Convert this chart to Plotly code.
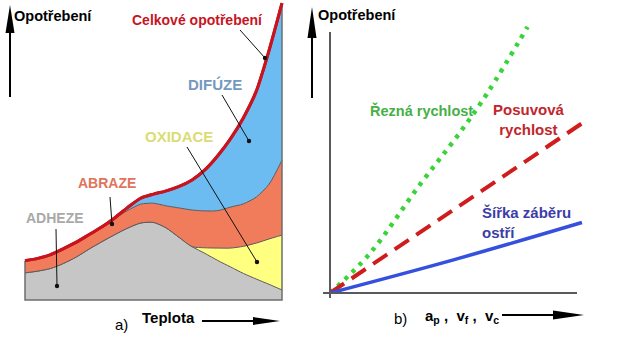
import plotly.graph_objects as go

W, H = 640, 355

# ---------------- data: panel a (wear mechanisms vs temperature) ----------------
teplota = [0, 5, 10, 15, 20, 25, 30, 35, 40, 45, 50, 55, 60, 65, 70, 75, 80, 85, 90, 95, 100]
adheze = [9.2, 9.8, 10.7, 12.4, 14.6, 17.3, 19.8, 22.2, 24.4, 26.1, 26.3, 24.4, 21.2, 18.1, 15.8, 13.4, 11.2, 9.0, 7.1, 5.3, 3.4]
oxidace = [0, 0, 0, 0, 0, 0, 0, 0, 0, 0, 0, 0, 0, 0, 1.9, 4.2, 6.4, 9.2, 12.2, 15.4, 18.6]
abraze = [4.1, 4.3, 4.7, 5.0, 5.0, 4.9, 5.0, 5.5, 6.0, 6.4, 6.5, 7.5, 10.0, 12.4, 12.5, 12.7, 13.9, 14.4, 15.6, 18.6, 25.4]
difuze = [0, 0, 0, 0, 0, 0, 0, 0.2, 1.0, 2.0, 3.1, 5.1, 7.3, 10.2, 13.9, 18.6, 23.2, 29.2, 35.9, 45.4, 53.2]

# ---------------- data: panel b (wear vs cutting parameters) ----------------
rezna_x = [0, 1.6, 3.6, 5.3, 6.4, 8.0]
rezna_y = [0, 1.5, 4.1, 6.2, 7.7, 10.2]
posuv_x = [0, 10.2]
posuv_y = [0, 6.5]
sirka_x = [0, 5.0, 10.2]
sirka_y = [0, 1.27, 2.7]


def X(p):
    return p / W


def Y(p):
    return 1 - p / H


fig = go.Figure()

edge = "#5a5a5a"
layers = [
    ("Adheze", adheze, "#c6c6c6", dict(color=edge, width=1)),
    ("Oxidace", oxidace, "#ffff80", dict(color=edge, width=1)),
    ("Abraze", abraze, "#f07c5c", dict(color=edge, width=1)),
    ("Difúze", difuze, "#6cbcf2", dict(color="#c8141e", width=3)),
]
for name, vals, col, ln in layers:
    fig.add_trace(go.Scatter(
        x=teplota, y=vals, name=name, stackgroup="a", mode="lines",
        fillcolor=col, line=dict(shape="spline", smoothing=0.7, **ln),
        xaxis="x", yaxis="y", showlegend=False, hoverinfo="skip"))

total = [a + b + c + d for a, b, c, d in zip(adheze, oxidace, abraze, difuze)]
fig.add_trace(go.Scatter(
    x=[teplota[0], teplota[0], teplota[-1], teplota[-1]],
    y=[total[0], 0, 0, total[-1]], mode="lines",
    line=dict(color="#6e6e6e", width=1.5), xaxis="x", yaxis="y",
    showlegend=False, hoverinfo="skip"))
fig.add_trace(go.Scatter(
    x=teplota, y=total, mode="lines",
    line=dict(color="#c8141e", width=3, shape="spline", smoothing=0.7),
    xaxis="x", yaxis="y", showlegend=False, hoverinfo="skip"))

# panel b lines
fig.add_trace(go.Scatter(x=rezna_x, y=rezna_y, mode="lines",
                         line=dict(color="#38d438", width=4.5, dash="4px,6px", shape="spline"),
                         xaxis="x2", yaxis="y2", showlegend=False, hoverinfo="skip"))
fig.add_trace(go.Scatter(x=posuv_x, y=posuv_y, mode="lines",
                         line=dict(color="#d01c1c", width=4, dash="17px,9px"),
                         xaxis="x2", yaxis="y2", showlegend=False, hoverinfo="skip"))
fig.add_trace(go.Scatter(x=sirka_x, y=sirka_y, mode="lines",
                         line=dict(color="#3550dc", width=3.5, shape="spline"),
                         xaxis="x2", yaxis="y2", showlegend=False, hoverinfo="skip"))

noax = dict(showgrid=False, zeroline=False, showticklabels=False, ticks="", showline=False)

fig.update_layout(
    xaxis=dict(domain=[X(20), X(287)], range=[-5 / 2.57, 100 + 5 / 2.57], **noax),
    yaxis=dict(domain=[Y(305), Y(0)], range=[-5 / 2.95, 300 / 2.95], **noax),
    xaxis2=dict(domain=[X(330), X(600)], range=[0, 270 / 24.7], anchor="y2", **noax),
    yaxis2=dict(domain=[Y(293), Y(15)], range=[0, 278 / 26.1], anchor="x2", **noax),
)

shapes = []
shapes.append(dict(type="line", xref="paper", yref="paper", x0=X(323), x1=X(577), y0=Y(293), y1=Y(293),
                   line=dict(color="#5a5a5a", width=2)))
shapes.append(dict(type="line", xref="paper", yref="paper", x0=X(330), x1=X(330), y0=Y(298), y1=Y(32),
                   line=dict(color="#5a5a5a", width=2)))


def varrow(x, ytip, ybase, yend, hw):
    shapes.append(dict(type="line", xref="paper", yref="paper", x0=X(x), x1=X(x), y0=Y(yend), y1=Y(ybase),
                       line=dict(color="black", width=2)))
    shapes.append(dict(type="path", xref="paper", yref="paper",
                       path=f"M{X(x)},{Y(ytip)} L{X(x - hw)},{Y(ybase)} L{X(x + hw)},{Y(ybase)} Z",
                       fillcolor="black", line=dict(width=0)))


def harrow(y, xstart, xbase, xtip, hh):
    shapes.append(dict(type="line", xref="paper", yref="paper", x0=X(xstart), x1=X(xbase), y0=Y(y), y1=Y(y),
                       line=dict(color="black", width=2)))
    shapes.append(dict(type="path", xref="paper", yref="paper",
                       path=f"M{X(xtip)},{Y(y)} L{X(xbase)},{Y(y - hh)} L{X(xbase)},{Y(y + hh)} Z",
                       fillcolor="black", line=dict(width=0)))


def leader(x0, y0, x1, y1, r=2.2):
    shapes.append(dict(type="line", xref="paper", yref="paper", x0=X(x0), y0=Y(y0), x1=X(x1), y1=Y(y1),
                       line=dict(color="#111", width=1)))
    shapes.append(dict(type="circle", xref="paper", yref="paper", x0=X(x1 - r), x1=X(x1 + r),
                       y0=Y(y1 + r), y1=Y(y1 - r), fillcolor="#111", line=dict(width=0)))


varrow(10, 5, 33, 97, 4.5)
varrow(312, 7, 38, 98, 4.5)
harrow(321, 202, 253, 280, 4)
harrow(315, 502, 553, 584, 4.5)

leader(240, 30, 265, 58)
leader(222, 95, 249, 141)
leader(187, 147, 257, 262)
leader(110, 197, 112, 224)
leader(56, 229, 57, 286)

fig.update_layout(shapes=shapes)

FONT = "Liberation Sans"
ann = []


def txt(text, x, y, color, size, bold=True, align="center", xanchor="center"):
    ann.append(dict(text=f"<b>{text}</b>" if bold else text, x=X(x), y=Y(y), xref="paper", yref="paper",
                    xanchor=xanchor, yanchor="middle", showarrow=False, align=align,
                    font=dict(family=FONT, size=size, color=color)))


txt("Opotřebení", 53, 16, "black", 14.5)
txt("Celkové opotřebení", 197, 20, "#c8141e", 14)
txt("DIFÚZE", 215, 84, "#7399bf", 15)
txt("OXIDACE", 179, 137, "#dcdc74", 15)
txt("ABRAZE", 107, 183, "#e0735a", 14)
txt("ADHEZE", 55, 218, "#a9a9a9", 14)
txt("Teplota", 168, 317, "black", 15)
txt("a)", 121, 324, "black", 15, bold=False)

txt("Opotřebení", 357, 15, "black", 14.5)
txt("Řezná rychlost", 421, 110, "#45b045", 14.5)
txt("Posuvová<br>rychlost", 529, 119, "#c0262c", 15)
txt("Šířka záběru<br>ostří", 480, 222, "#3d3da6", 15, align="left", xanchor="left")
txt("b)", 400, 318, "black", 15, bold=False)
txt("a<sub>p</sub> ,  v<sub>f</sub> ,  v<sub>c</sub>", 462, 316, "black", 15)

fig.update_layout(annotations=ann, width=W, height=H, margin=dict(l=0, r=0, t=0, b=0),
                  paper_bgcolor="white", plot_bgcolor="white", showlegend=False)

fig.write_html("out.html", config={"displayModeBar": False, "staticPlot": True},
               post_script="document.body.style.margin='0px';")
